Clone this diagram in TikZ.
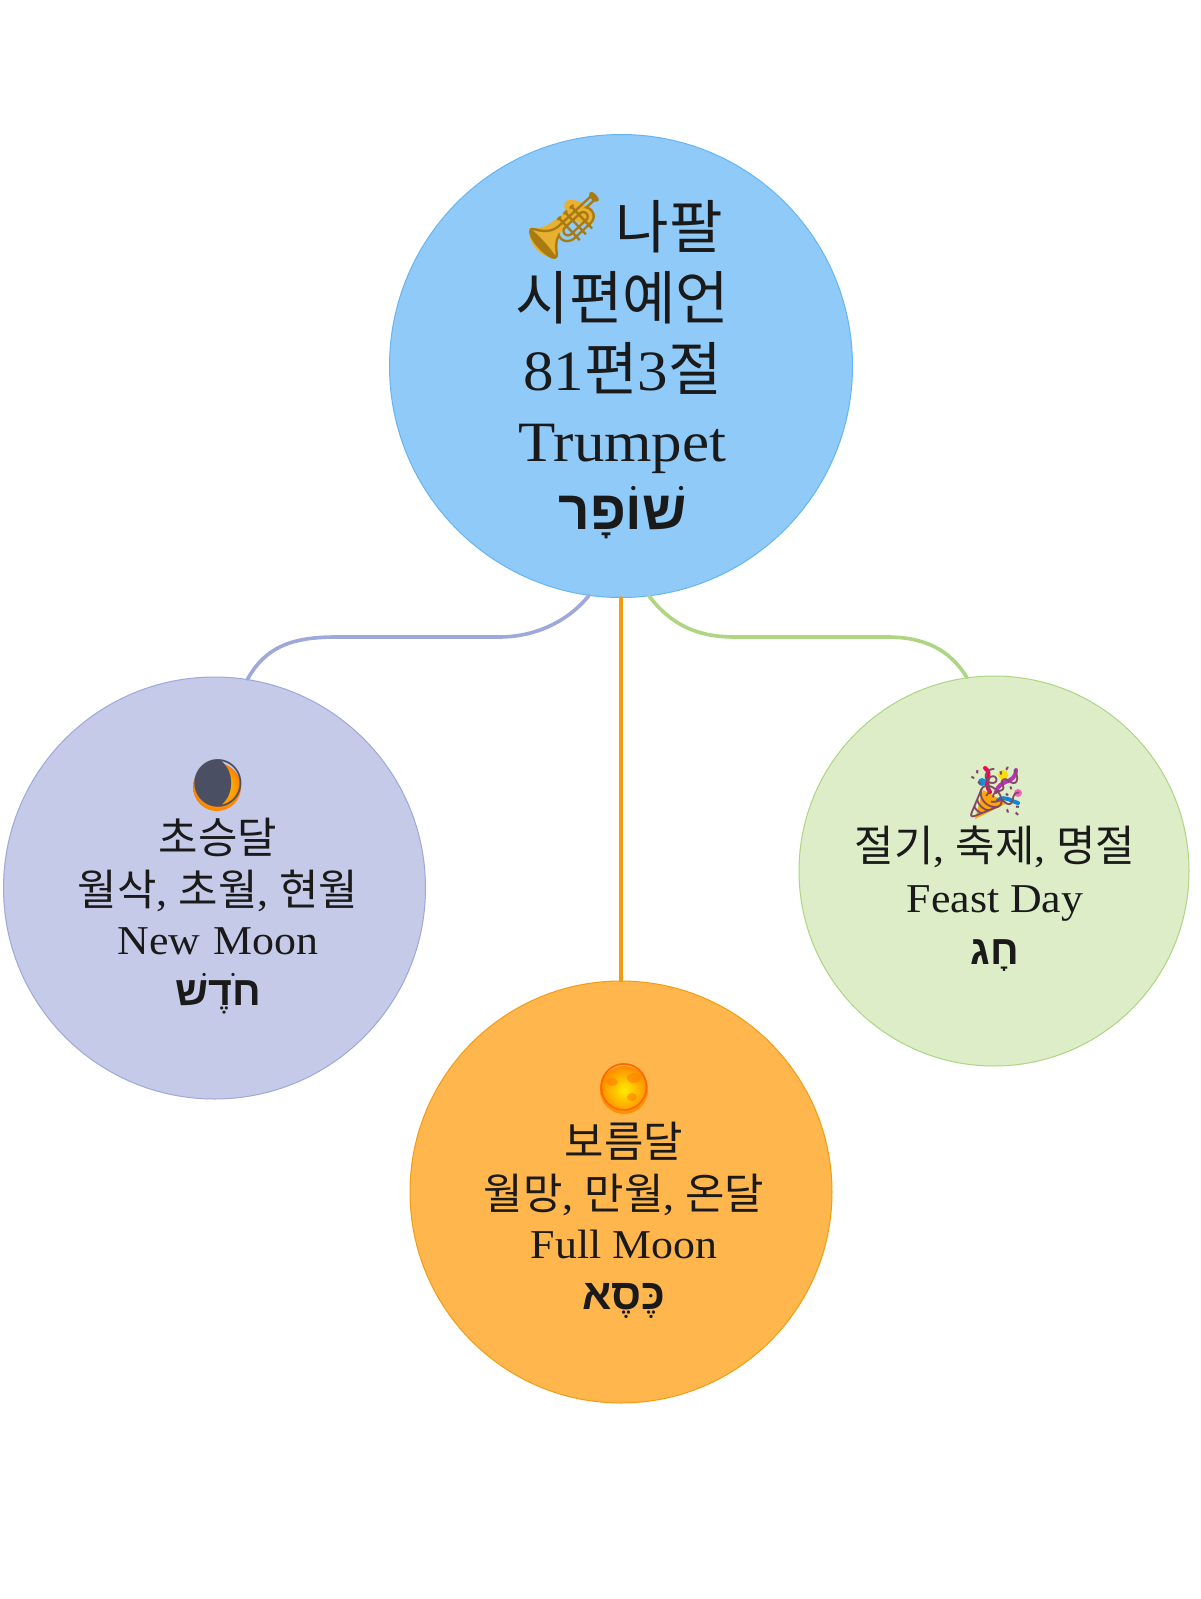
\documentclass[tikz,border=0pt]{standalone}
\usepackage{fontspec}
\setmainfont[FakeStretch=1.07]{Liberation Serif}
\newfontfamily\kr[Scale=1.045]{Noto Sans CJK KR}
\newfontfamily\krbig[Scale=1.02]{Noto Sans CJK KR}
\newfontfamily\heb[Script=Hebrew]{Liberation Sans}
\newfontfamily\emo{Noto Emoji}
\TeXXeTstate=1
\definecolor{bluefill}{HTML}{90CAF9}\definecolor{blueline}{HTML}{64B5F6}
\definecolor{violetfill}{HTML}{C5CAE9}\definecolor{violetline}{HTML}{9FA8DA}
\definecolor{orangefill}{HTML}{FFB74D}\definecolor{orangeline}{HTML}{F39C12}
\definecolor{greenfill}{HTML}{DCEDC8}\definecolor{greenline}{HTML}{AED581}
\definecolor{ink}{HTML}{1A1A1A}
\definecolor{gold}{HTML}{E8B030}
\definecolor{darkgold}{HTML}{A87A10}
\definecolor{moonslate}{HTML}{4A4F63}
\newcommand{\hebline}[1]{{\heb\bfseries\beginR #1\endR}}
\newcommand{\dropline}[1]{\raisebox{-2.5pt}{#1}}
\tikzset{
  bubble/.style={circle,inner sep=0pt,line width=1pt},
  link/.style={line width=3.6pt,line cap=round},
  bigtext/.style={align=center,inner sep=0pt,text=ink,font=\fontsize{57}{71}\selectfont},
  smalltext/.style={align=center,inner sep=0pt,text=ink,font=\fontsize{41}{51.5}\selectfont},
}
\begin{document}
\begin{tikzpicture}[x=1pt,y=-1pt]
\useasboundingbox (0,0) rectangle (1200,1599);
\fill[white] (0,0) rectangle (1200,1599);
\node[bubble,draw=blueline,fill=bluefill,minimum size=463pt] (main) at (621,366) {};
\node[bubble,draw=violetline,fill=violetfill,minimum size=422pt] (newm) at (214.5,888) {};
\node[bubble,draw=orangeline,fill=orangefill,minimum size=422pt] (fullm) at (621,1192) {};
\node[bubble,draw=greenline,fill=greenfill,minimum size=390pt] (feast) at (994,871) {};
\coordinate (la) at (500,637);\coordinate (lb) at (336,637);
\coordinate (ra) at (735,637);\coordinate (rb) at (887,637);
\draw[link,violetline] (main.262) .. controls (565,625) and (530,637) .. (la) -- (lb) .. controls (290,637) and (265,648) .. (newm.81);
\draw[link,orangeline] (main.south) -- (fullm.north);
\draw[link,greenline] (main.277) .. controls (675,630) and (705,637) .. (ra) -- (rb) .. controls (925,637) and (950,650) .. (feast.98);
% colour beneath the trumpet glyph
\fill[gold] (530,228) .. controls (538,230) and (548,226) .. (556,219) -- (575,205) -- (582,213) -- (560,233) .. controls (556,240) and (556,250) .. (558,256) .. controls (545,262) and (526,245) .. cycle;
\fill[gold,rotate around={-35:(579,212)}] (579,212) ellipse (17 and 9);
% moon discs beneath the emoji glyphs
\shade[inner color=yellow!80!orange,outer color=orange] (217,787) circle (24);
\shade[inner color=yellow!85!orange,outer color=orange!90!yellow] (624,1090) circle (24);
\fill[orange,opacity=.6] (612,1082) ellipse (6 and 4) (634,1078) ellipse (7 and 5) (632,1097) ellipse (5 and 4);
% colour beneath the party popper glyph
\fill[orange!70!yellow] (975,819) -- (983,790) -- (1007,803) -- cycle;
\draw[line width=4pt,red!70!magenta,line cap=round] (990,792) .. controls (982,780) and (994,775) .. (985,768);
\draw[line width=4pt,violet!70!magenta!80,line cap=round] (996,792) .. controls (1000,778) and (1015,785) .. (1016,770);
\draw[line width=4pt,cyan!70!blue,line cap=round] (998,800) .. controls (1006,795) and (1012,802) .. (1018,803);
\fill[yellow!80!orange] (1003,775) circle (5);
\fill[cyan!80!blue] (982,782) circle (4);
\fill[magenta!60] (1018,793) circle (4);
\node[bigtext] (maintext) at (622.5,366) {{\fontsize{66}{71}\selectfont\emo\color{darkgold}🎺}\,{\krbig 나팔}\\{\krbig 시편예언}\\81{\krbig 편}3{\krbig 절}\\Trumpet\\\raisebox{3pt}{\fontsize{55}{71}\selectfont\hebline{שׁוֹפָר}}};
\node[smalltext] (newtext) at (218,887) {{\fontsize{47}{51.5}\selectfont\emo\color{moonslate}🌒}\\\dropline{\kr 초승달}\\\dropline{{\kr 월삭}, {\kr 초월}, {\kr 현월}}\\New\,\,Moon\\\hebline{חֹדֶשׁ}};
\node[smalltext] (fulltext) at (624,1191) {{\fontsize{47}{51.5}\selectfont\emo\color{orange!80!red}🌕}\\\dropline{\kr 보름달}\\\dropline{{\kr 월망}, {\kr 만월}, {\kr 온달}}\\Full Moon\\{\fontsize{43}{51.5}\selectfont\hebline{כֶּסֶא}}};
\node[smalltext] (feasttext) at (995,869) {{\fontsize{50}{51.5}\selectfont\emo\color{black!55!magenta}🎉}\\{\kr 절기}, {\kr 축제}, {\kr 명절}\\Feast Day\\\hebline{חָג}};
\end{tikzpicture}
\end{document}
